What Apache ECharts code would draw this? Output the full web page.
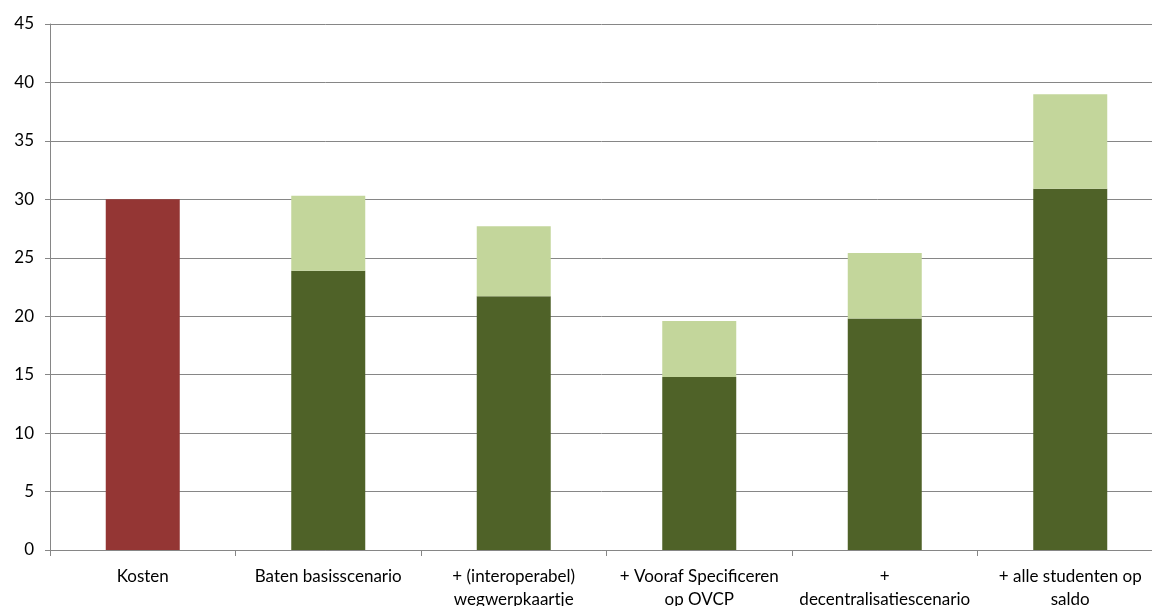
<!DOCTYPE html>
<html><head><meta charset="utf-8">
<script src="https://cdn.jsdelivr.net/npm/echarts@6/dist/echarts.min.js"></script>
<style>html,body{margin:0;padding:0;background:#fff}#c{width:1152px;height:606px}</style>
</head><body><div id="c"></div>
<script>
const categories = ["Kosten", "Baten basisscenario", "+ (interoperabel)\nwegwerpkaartje", "+ Vooraf Specificeren\nop OVCP", "+\ndecentralisatiescenario", "+ alle studenten op\nsaldo"];
const kosten = [30, null, null, null, null, null];
const batenBasis = [null, 23.9, 21.7, 14.8, 19.8, 30.9];
const batenExtra = [null, 6.4, 6.0, 4.8, 5.6, 8.1];
const yTicks = [0, 5, 10, 15, 20, 25, 30, 35, 40, 45];

const chart = echarts.init(document.getElementById('c'), null, {renderer: 'canvas'});
const font = 'Lato, "Open Sans", sans-serif';
chart.setOption({
  animation: false,
  grid: {left: 50, top: 24, bottom: 56, right: -11, containLabel: false, outerBoundsMode: 'none'},
  xAxis: {
    type: 'category', data: categories,
    axisLine: {lineStyle: {color: '#868686', width: 1}},
    axisTick: {show: true, length: 6, lineStyle: {color: '#868686'}},
    axisLabel: {color: '#000', fontFamily: font, fontSize: 17, lineHeight: 23, margin: 15, interval: 0}
  },
  yAxis: {
    type: 'value', min: yTicks[0], max: yTicks[yTicks.length - 1], interval: 5,
    axisLine: {show: true, lineStyle: {color: '#868686', width: 1}},
    axisTick: {show: true, length: 5, lineStyle: {color: '#868686'}},
    splitLine: {show: true, lineStyle: {color: '#868686', width: 1}},
    axisLabel: {color: '#000', fontFamily: font, fontSize: 17, margin: 16}
  },
  series: [
    {name: 'Kosten', type: 'bar', stack: 'a', data: kosten, barWidth: 74, itemStyle: {color: '#943634'}},
    {name: 'Baten', type: 'bar', stack: 'a', data: batenBasis, barWidth: 74, itemStyle: {color: '#4F6228'}},
    {name: 'Extra', type: 'bar', stack: 'a', data: batenExtra, barWidth: 74, itemStyle: {color: '#C3D69B'}}
  ]
});
</script></body></html>
